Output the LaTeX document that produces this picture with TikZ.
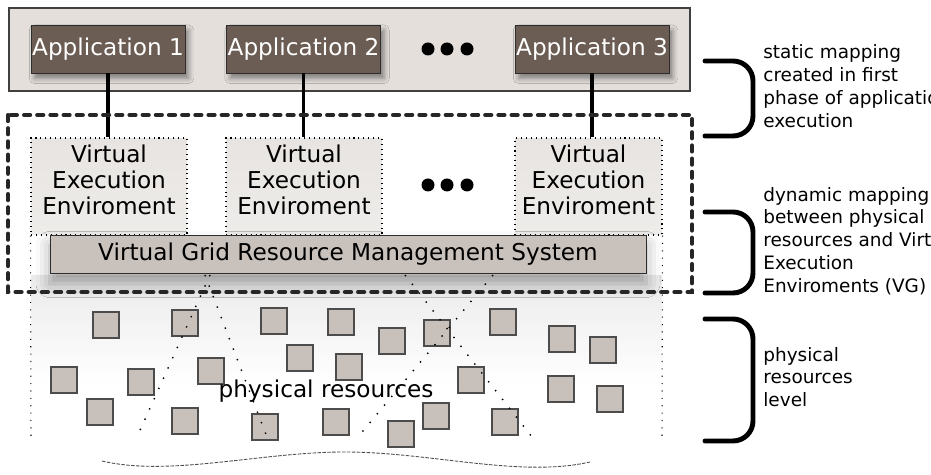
\documentclass[tikz,border=0pt]{standalone}
\usepackage{fontspec}
\setmainfont{DejaVu Sans}
\usetikzlibrary{positioning,shadows.blur}

\definecolor{barfill}{RGB}{228,223,219}
\definecolor{appfill}{RGB}{107,93,83}
\definecolor{veefill}{RGB}{231,228,225}
\definecolor{vgfill}{RGB}{201,193,187}
\definecolor{resfill}{RGB}{200,192,186}
\definecolor{edgecol}{RGB}{45,45,45}

\tikzset{
  mainfont/.style={font=\fontsize{13.2}{14.7}\selectfont},
  sidefont/.style={font=\fontsize{10.5}{13}\selectfont},
  appbox/.style={draw=edgecol, fill=appfill, text=white, mainfont, inner sep=0pt,
    minimum width=3.08cm, minimum height=0.96cm,
    blur shadow={shadow xshift=2pt, shadow yshift=-3pt, shadow blur radius=3pt,
      shadow opacity=45}},
  veebox/.style={draw=black, line width=0.6pt, dash pattern=on 0.6pt off 2.2pt,
    top color=veefill, bottom color=veefill!70!white, inner sep=0pt,
    minimum width=3.12cm, minimum height=1.94cm},
  veetext/.style={mainfont, align=center, inner sep=0pt},
  vgbox/.style={draw=edgecol, fill=vgfill, mainfont, inner sep=0pt,
    minimum width=11.92cm, minimum height=0.76cm,
    blur shadow={shadow xshift=0pt, shadow yshift=-6pt, shadow blur radius=8pt,
      shadow opacity=35}},
  link/.style={line width=2pt},
  veedots/.style={line width=0.6pt, dash pattern=on 0.6pt off 3.6pt},
  fanline/.style={line width=0.8pt, dash pattern=on 0.8pt off 5.6pt},
  groupline/.style={line width=2.3pt, line cap=round, dash pattern=on 3.5pt off 4pt, color=black!85},
  res/.style={draw=black!70, line width=0.8pt, fill=resfill},
  brace/.style={line width=2.8pt, line cap=round, rounded corners=0.4cm},
  sidetext/.style={sidefont, align=left, anchor=west, inner sep=0pt},
}

\begin{document}
\begin{tikzpicture}[x=0.02cm, y=-0.02cm]
\useasboundingbox (0,0) rectangle (931,475);

% Physical resources background.
\shade[top color=black!8, bottom color=white] (31,276) rectangle (662,385);

% Application bar.
\filldraw[fill=barfill, draw=black!75, line width=0.9pt] (9,8) rectangle (690,91);
\node[appbox] (app1) at (108,49) {Application 1};
\node[appbox] (app2) at (303.5,49) {Application 2};
\node[appbox] (app3) at (592,49) {Application 3};
\fill (428,49) circle (6.5);
\fill (447,49) circle (6.5);
\fill (467,49) circle (6.5);

% Virtual Execution Enviroments.
\node[veebox] (vee1) at (109,186.5) {};
\node[veebox] (vee2) at (304,186.5) {};
\node[veebox, minimum width=2.94cm] (vee3) at (588.5,186.5) {};
\node[veetext, below=0.15cm of vee1.north] (vee1text) {Virtual\\Execution\\Enviroment};
\node[veetext, below=0.15cm of vee2.north] (vee2text) {Virtual\\Execution\\Enviroment};
\node[veetext, below=0.15cm of vee3.north] (vee3text) {Virtual\\Execution\\Enviroment};
\fill (428,185) circle (6.5);
\fill (447,185) circle (6.5);
\fill (467,185) circle (6.5);

\draw[link] (app1.south) -- (app1.south |- vee1.north);
\draw[link] (app2.south) -- (app2.south |- vee2.north);
\draw[link] (app3.south) -- (app3.south |- vee3.north);

% Side borders of the lower area.
\draw[veedots] (vee1.south west) -- (31,437);
\draw[veedots] (vee3.south east) -- (662,437);

% Virtual Grid RMS.
\node[vgbox] (vgrms) at (348,254) {Virtual Grid Resource Management System};

% Mapping group.
\draw[groupline] (8,115) rectangle (692,292);

% Physical resources.
\filldraw[res] (93,312) rectangle +(26,26);
\filldraw[res] (172,310) rectangle +(26,26);
\filldraw[res] (261,308) rectangle +(26,26);
\filldraw[res] (328,309) rectangle +(26,26);
\filldraw[res] (490,309) rectangle +(26,26);

\filldraw[res] (379,328) rectangle +(26,26);
\filldraw[res] (424,320) rectangle +(26,26);
\filldraw[res] (549,326) rectangle +(26,26);
\filldraw[res] (590,337) rectangle +(26,26);

\filldraw[res] (287,345) rectangle +(26,26);
\filldraw[res] (336,354) rectangle +(26,26);

\filldraw[res] (51,367) rectangle +(26,26);
\filldraw[res] (128,369) rectangle +(26,26);
\filldraw[res] (198,358) rectangle +(26,26);
\filldraw[res] (458,367) rectangle +(26,26);
\filldraw[res] (548,376) rectangle +(26,26);
\filldraw[res] (597,386) rectangle +(26,26);

\filldraw[res] (87,399) rectangle +(26,26);
\filldraw[res] (172,408) rectangle +(26,26);
\filldraw[res] (252,414) rectangle +(26,26);
\filldraw[res] (323,409) rectangle +(26,26);
\filldraw[res] (388,421) rectangle +(26,26);
\filldraw[res] (423,403) rectangle +(26,26);
\filldraw[res] (492,409) rectangle +(26,26);

% Mapping fans.
\draw[fanline] (210,275) -- (137,437);
\draw[fanline] (205,275) -- (267,437);
\draw[fanline] (405,275) -- (532,437);
\draw[fanline] (493,275) -- (358,437);

\node[mainfont, inner sep=0pt] (physres) at (326,391) {physical resources};

% Wave.
\draw[black!70, line width=0.5pt, dash pattern=on 2pt off 0.8pt]
  (102,461) .. controls (170,477) and (260,452) .. (345,452)
  .. controls (430,452) and (520,478) .. (590,462);

% Brackets.
\draw[brace] (705,61) -- (753,61) -- (753,136) -- (705,136);
\draw[brace] (705,212) -- (753,212) -- (753,293) -- (705,293);
\draw[brace] (705,319) -- (753,319) -- (753,441) -- (705,441);

% Side notes.
\begin{scope}
\clip (0,0) rectangle (931,475);
\node[sidetext] (static) at (763,86) {static mapping\\created in first\\phase of application\\execution};
\node[sidetext] (dynamic) at (763,241) {dynamic mapping\\between physical\\resources and Virtual\\Execution\\Enviroments (VG)};
\node[sidetext] (level) at (763,377) {physical\\resources\\level};
\end{scope}
\end{tikzpicture}
\end{document}
